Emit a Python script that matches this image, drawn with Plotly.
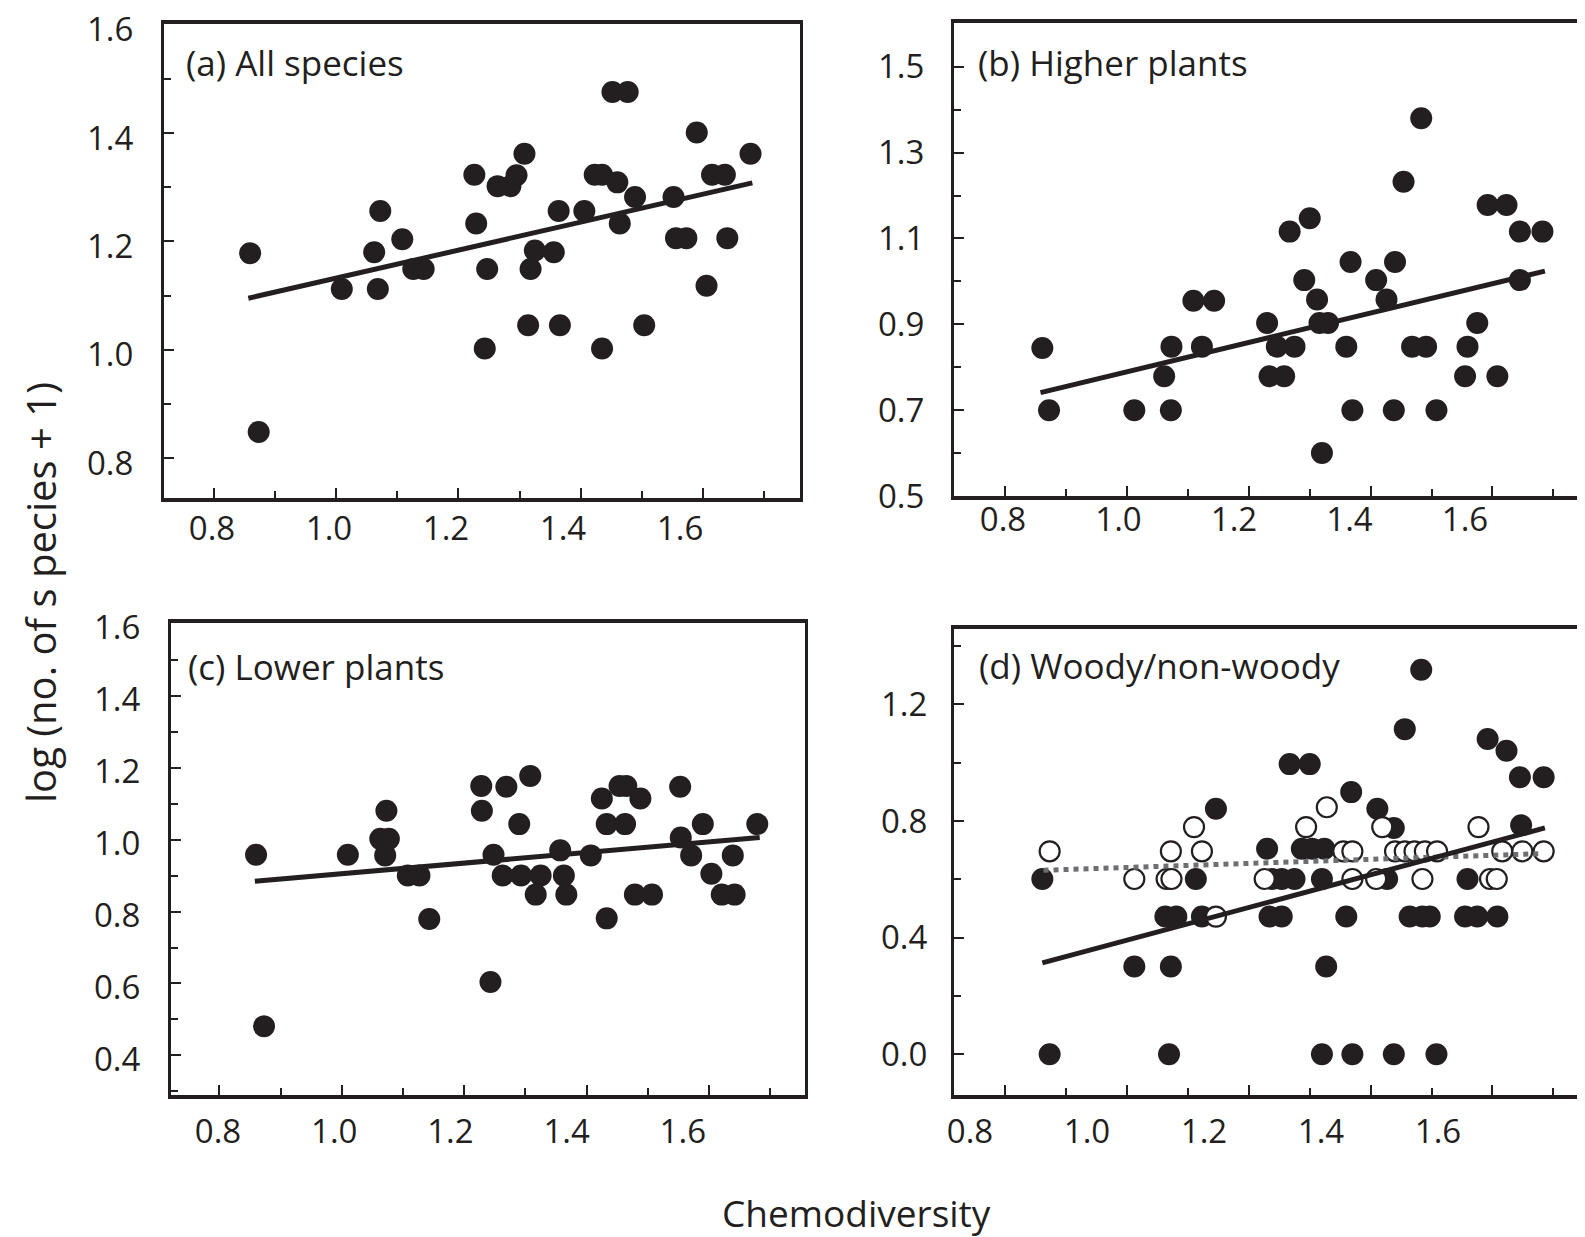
import plotly.graph_objects as go

W, H = 1585, 1237
OFF = 8  # page body margin offset applied by the browser
INK = "#231f20"

# ---------------- data ----------------
# (a) All species
a_x = [0.859, 0.873, 1.009, 1.062, 1.072, 1.068, 1.108, 1.126, 1.143, 1.226, 1.229, 1.247,
       1.243, 1.264, 1.285, 1.295, 1.308, 1.318, 1.325, 1.314, 1.356, 1.364, 1.366, 1.406,
       1.423, 1.435, 1.435, 1.452, 1.477, 1.460, 1.464, 1.489, 1.504, 1.552, 1.556, 1.573,
       1.590, 1.606, 1.615, 1.636, 1.640, 1.678]
a_y = [1.178, 0.848, 1.112, 1.180, 1.256, 1.112, 1.204, 1.149, 1.149, 1.323, 1.233, 1.149,
       1.002, 1.302, 1.302, 1.322, 1.362, 1.149, 1.183, 1.045, 1.180, 1.256, 1.045, 1.256,
       1.323, 1.323, 1.002, 1.476, 1.476, 1.309, 1.233, 1.282, 1.045, 1.282, 1.206, 1.206,
       1.401, 1.118, 1.323, 1.323, 1.206, 1.362]
a_fit_x = [0.856, 1.681]
a_fit_y = [1.095, 1.308]

# (b) Higher plants
b_x = [0.861, 0.872, 1.012, 1.072, 1.061, 1.073, 1.109, 1.143, 1.123, 1.230, 1.234, 1.258,
       1.246, 1.267, 1.275, 1.300, 1.291, 1.312, 1.320, 1.316, 1.330, 1.360, 1.367, 1.370,
       1.409, 1.426, 1.440, 1.438, 1.454, 1.468, 1.491, 1.483, 1.508, 1.559, 1.555, 1.575,
       1.608, 1.592, 1.623, 1.645, 1.682, 1.645]
b_y = [0.845, 0.700, 0.700, 0.700, 0.779, 0.848, 0.955, 0.955, 0.848, 0.903, 0.779, 0.779,
       0.848, 1.116, 0.848, 1.147, 1.003, 0.958, 0.600, 0.903, 0.903, 0.848, 1.045, 0.700,
       1.003, 0.958, 1.045, 0.700, 1.232, 0.848, 0.848, 1.380, 0.700, 0.848, 0.779, 0.903,
       0.779, 1.178, 1.178, 1.116, 1.116, 1.003]
b_fit_x = [0.858, 1.686]
b_fit_y = [0.741, 1.024]

# (c) Lower plants
c_x = [0.860, 0.873, 1.010, 1.063, 1.077, 1.073, 1.071, 1.108, 1.127, 1.143, 1.228, 1.229,
       1.243, 1.248, 1.263, 1.269, 1.290, 1.308, 1.293, 1.325, 1.317, 1.357, 1.363, 1.367,
       1.407, 1.425, 1.433, 1.433, 1.454, 1.465, 1.463, 1.488, 1.479, 1.507, 1.553, 1.554,
       1.571, 1.590, 1.604, 1.621, 1.642, 1.639, 1.679]
c_y = [0.958, 0.481, 0.958, 1.002, 1.002, 1.080, 0.956, 0.900, 0.900, 0.779, 1.149, 1.080,
       0.604, 0.958, 0.900, 1.147, 1.043, 1.177, 0.900, 0.900, 0.847, 0.970, 0.900, 0.847,
       0.956, 1.114, 1.043, 0.781, 1.149, 1.149, 1.043, 1.114, 0.847, 0.847, 1.147, 1.006,
       0.956, 1.043, 0.905, 0.847, 0.847, 0.956, 1.043]
c_fit_x = [0.858, 1.683]
c_fit_y = [0.884, 1.006]

# (d) Woody (filled) / non-woody (open)
d_woody_x = [0.861, 0.873, 1.012, 1.072, 1.069, 1.063, 1.081, 1.113, 1.123, 1.146, 1.230,
             1.234, 1.254, 1.238, 1.254, 1.275, 1.267, 1.300, 1.287, 1.304, 1.324, 1.320,
             1.327, 1.320, 1.360, 1.370, 1.368, 1.411, 1.427, 1.438, 1.438, 1.456, 1.464,
             1.485, 1.497, 1.483, 1.508, 1.559, 1.555, 1.575, 1.608, 1.592, 1.623, 1.645,
             1.684, 1.647]
d_woody_y = [0.601, 0.000, 0.301, 0.301, 0.000, 0.472, 0.472, 0.601, 0.472, 0.842, 0.705,
             0.472, 0.472, 0.601, 0.601, 0.601, 0.995, 0.995, 0.705, 0.705, 0.705, 0.601,
             0.301, 0.000, 0.472, 0.000, 0.899, 0.842, 0.601, 0.776, 0.000, 1.115, 0.472,
             0.472, 0.472, 1.319, 0.000, 0.601, 0.472, 0.472, 0.472, 1.081, 1.041, 0.950,
             0.950, 0.785]
d_open_x = [0.873, 1.012, 1.065, 1.073, 1.072, 1.110, 1.123, 1.146, 1.226, 1.294, 1.328,
            1.355, 1.370, 1.370, 1.409, 1.419, 1.440, 1.456, 1.472, 1.489, 1.509, 1.485,
            1.577, 1.596, 1.607, 1.616, 1.649, 1.684]
d_open_y = [0.696, 0.601, 0.601, 0.601, 0.696, 0.779, 0.696, 0.472, 0.601, 0.779, 0.847,
            0.696, 0.696, 0.601, 0.601, 0.779, 0.696, 0.696, 0.696, 0.696, 0.696, 0.601,
            0.779, 0.601, 0.601, 0.696, 0.696, 0.696]
d_fit_woody_x = [0.861, 1.686]
d_fit_woody_y = [0.313, 0.776]
d_fit_open_x = [0.863, 1.682]
d_fit_open_y = [0.631, 0.688]

x_ticks = [0.8, 1.0, 1.2, 1.4, 1.6]
x_tick_text = ["0.8", "1.0", "1.2", "1.4", "1.6"]
a_y_ticks = [0.8, 1.0, 1.2, 1.4, 1.6]
b_y_ticks = [0.5, 0.7, 0.9, 1.1, 1.3, 1.5]
c_y_ticks = [0.4, 0.6, 0.8, 1.0, 1.2, 1.4, 1.6]
d_y_ticks = [0.0, 0.4, 0.8, 1.2]

panel_labels = ["(a) All species", "(b) Higher plants", "(c) Lower plants", "(d) Woody/non-woody"]
y_title = "log (no. of s pecies + 1)"
x_title = "Chemodiversity"

# ---------------- figure ----------------
fig = go.Figure()

def filled(x, y, xa, ya):
    fig.add_trace(go.Scatter(x=x, y=y, mode="markers", xaxis=xa, yaxis=ya,
                             marker=dict(size=22, color=INK, line=dict(width=0)),
                             showlegend=False, hoverinfo="skip"))

def fitline(x, y, xa, ya, color=INK, width=5, dash="solid"):
    fig.add_trace(go.Scatter(x=x, y=y, mode="lines", xaxis=xa, yaxis=ya,
                             line=dict(color=color, width=width, dash=dash),
                             showlegend=False, hoverinfo="skip"))

filled(a_x, a_y, "x", "y")
fitline(a_fit_x, a_fit_y, "x", "y")
filled(b_x, b_y, "x2", "y2")
fitline(b_fit_x, b_fit_y, "x2", "y2")
filled(c_x, c_y, "x3", "y3")
fitline(c_fit_x, c_fit_y, "x3", "y3")
filled(d_woody_x, d_woody_y, "x4", "y4")
fig.add_trace(go.Scatter(x=d_open_x, y=d_open_y, mode="markers", xaxis="x4", yaxis="y4",
                         marker=dict(size=20, color="white", line=dict(width=2.2, color=INK)),
                         showlegend=False, hoverinfo="skip"))
fitline(d_fit_open_x, d_fit_open_y, "x4", "y4", color="#6d6e71", width=5, dash="dot")
fitline(d_fit_woody_x, d_fit_woody_y, "x4", "y4")

# empty traces so the tick-label axes (x5..x8) are instantiated
for xa, ya in [("x5", "y"), ("x6", "y2"), ("x7", "y3"), ("x8", "y4")]:
    fig.add_trace(go.Scatter(x=[], y=[], xaxis=xa, yaxis=ya, showlegend=False, hoverinfo="skip"))

def xd(l, r):
    return [max((l - OFF) / W, 0.0), min((r - OFF) / W, 1.0)]

def yd(t, b):
    return [1 - (b - OFF) / H, 1 - (t - OFF) / H]

tickfont = dict(family="Open Sans", size=33, color=INK)

def xaxis(dom, rng, anchor):
    return dict(domain=dom, range=rng, anchor=anchor, showgrid=False, zeroline=False,
                automargin=False,
                showline=True, linecolor=INK, linewidth=4, mirror=True,
                tickmode="array", tickvals=x_ticks, showticklabels=False,
                ticks="inside", ticklen=10, tickwidth=2, tickcolor=INK,
                minor=dict(ticks="inside", dtick=0.1, tick0=0.8, ticklen=7, tickwidth=2, tickcolor=INK))

def label_axis(over, anchor, rng, standoff):
    # printed tick labels of the original sit on a slightly different spacing than the ticks
    return dict(overlaying=over, anchor=anchor, range=rng, side="bottom", showgrid=False,
                zeroline=False, showline=False, ticks="", automargin=False,
                tickmode="array", tickvals=x_ticks, ticktext=x_tick_text,
                tickfont=tickfont, ticklabelstandoff=standoff, ticklabeloverflow="allow")

def yaxis(dom, rng, anchor, vals, minor_dt, mirror, standoff, shift=0):
    return dict(domain=dom, range=rng, anchor=anchor, showgrid=False, zeroline=False,
                automargin=False,
                showline=True, linecolor=INK, linewidth=3, mirror=mirror,
                tickmode="array", tickvals=vals, ticktext=[f"{v:.1f}" for v in vals],
                ticks="inside", ticklen=10, tickwidth=2, tickcolor=INK,
                minor=dict(ticks="inside", dtick=minor_dt, tick0=vals[0], ticklen=7, tickwidth=2, tickcolor=INK),
                tickfont=tickfont, ticklabelstandoff=standoff, ticklabeloverflow="allow",
                ticklabelshift=shift)

fig.update_layout(
    width=W, height=H, margin=dict(l=0, r=0, t=0, b=0, autoexpand=False),
    paper_bgcolor="white", plot_bgcolor="white", showlegend=False,
    xaxis=xaxis(xd(164, 800), [0.718, 1.759], "y"),
    yaxis=yaxis(yd(24, 498), [0.726, 1.6015], "x", a_y_ticks, 0.1, True, 21, 5),
    xaxis2=xaxis(xd(954, 1593), [0.716, 1.765], "y2"),
    yaxis2=yaxis(yd(23, 496), [0.5, 1.602], "x2", b_y_ticks, 0.1, False, 20),
    xaxis3=xaxis(xd(171, 805), [0.721, 1.757], "y3"),
    yaxis3=yaxis(yd(623, 1095), [0.29, 1.602], "x3", c_y_ticks, 0.1, True, 21, 4),
    xaxis4=xaxis(xd(954, 1593), [0.716, 1.765], "y4"),
    yaxis4=yaxis(yd(629, 1095), [-0.14, 1.4585], "x4", d_y_ticks, 0.2, False, 17),
    xaxis5=label_axis("x", "y", [0.718, 1.805], 8),
    xaxis6=label_axis("x2", "y2", [0.7152, 1.8216], 1),
    xaxis7=label_axis("x3", "y3", [0.7191, 1.8103], 14),
    xaxis8=label_axis("x4", "y4", [0.7726, 1.8650], 14),
)

label_pos = [(184, 62), (976, 62), (186, 666), (977, 665)]
for txt, (px, py) in zip(panel_labels, label_pos):
    fig.add_annotation(text=txt, xref="paper", yref="paper", x=(px - OFF) / W, y=1 - (py - OFF) / H,
                       xanchor="left", yanchor="middle", showarrow=False,
                       font=dict(family="Open Sans", size=35, color=INK))

fig.add_annotation(text=y_title, xref="paper", yref="paper", x=(40 - OFF) / W, y=1 - (593 - OFF) / H,
                   xanchor="center", yanchor="middle", textangle=-90, showarrow=False,
                   font=dict(family="Open Sans", size=40, color=INK))
fig.add_annotation(text=x_title, xref="paper", yref="paper", x=(857 - OFF) / W, y=1 - (1212 - OFF) / H,
                   xanchor="center", yanchor="middle", showarrow=False,
                   font=dict(family="Open Sans", size=37, color=INK))

fig.write_html("out.html")
